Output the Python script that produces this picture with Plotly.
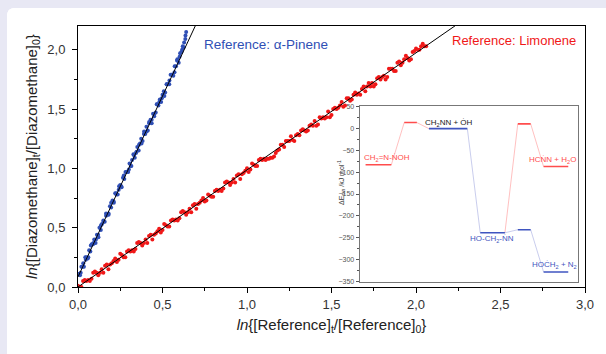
import plotly.graph_objects as go

# ---------------- main data ----------------
pinene_x = [0.005, 0.012, 0.02, 0.028, 0.035, 0.043, 0.05, 0.058, 0.066, 0.073, 0.081, 0.089, 0.096, 0.104,
            0.112, 0.119, 0.127, 0.135, 0.142, 0.15, 0.158, 0.166, 0.173, 0.181, 0.189, 0.196, 0.204, 0.212,
            0.22, 0.227, 0.235, 0.243, 0.25, 0.258, 0.266, 0.274, 0.281, 0.289, 0.297, 0.305, 0.312, 0.32,
            0.328, 0.336, 0.343, 0.351, 0.359, 0.367, 0.374, 0.382, 0.39, 0.398, 0.405, 0.413, 0.421, 0.429,
            0.436, 0.444, 0.452, 0.46, 0.468, 0.476, 0.484, 0.492, 0.5, 0.508, 0.516, 0.524, 0.532, 0.54,
            0.548, 0.556, 0.564, 0.572, 0.58, 0.588, 0.596, 0.604, 0.612, 0.62, 0.628, 0.636, 0.64, 0.635, 0.625,
            0.016, 0.031, 0.046, 0.061, 0.076, 0.091, 0.106, 0.121, 0.136, 0.151, 0.166, 0.181, 0.196, 0.211,
            0.226, 0.241, 0.256, 0.271, 0.286, 0.301, 0.316, 0.331, 0.346, 0.361, 0.376, 0.391, 0.406, 0.421,
            0.436, 0.451, 0.466, 0.481, 0.496, 0.511, 0.526, 0.541, 0.556, 0.571, 0.586, 0.601, 0.616]
pinene_y = [0.11, 0.10, 0.17, 0.17, 0.17, 0.25, 0.25, 0.24, 0.31, 0.30, 0.36, 0.36, 0.40, 0.37,
            0.44, 0.44, 0.50, 0.48, 0.53, 0.56, 0.55, 0.62, 0.61, 0.61, 0.68, 0.67, 0.73, 0.71,
            0.79, 0.78, 0.78, 0.85, 0.86, 0.84, 0.92, 0.91, 0.97, 0.97, 0.97, 1.04, 1.02, 1.07,
            1.12, 1.09, 1.13, 1.18, 1.15, 1.21, 1.25, 1.23, 1.29, 1.29, 1.35, 1.32, 1.38, 1.41,
            1.38, 1.46, 1.46, 1.47, 1.54, 1.53, 1.58, 1.56, 1.62, 1.65, 1.64, 1.71, 1.71, 1.71,
            1.79, 1.79, 1.78, 1.86, 1.86, 1.92, 1.89, 1.97, 1.98, 2.03, 2.06, 2.12, 2.15, 2.09, 2.02,
            0.12, 0.20, 0.23, 0.25, 0.35, 0.37, 0.40, 0.42, 0.52, 0.55, 0.60, 0.62, 0.71, 0.72,
            0.79, 0.82, 0.85, 0.94, 0.97, 0.99, 1.02, 1.11, 1.14, 1.20, 1.21, 1.31, 1.31, 1.39,
            1.41, 1.44, 1.54, 1.56, 1.59, 1.61, 1.71, 1.74, 1.79, 1.81, 1.91, 1.94, 2.00]

limonene_x = [0.00, 0.02, 0.04, 0.06, 0.08, 0.10, 0.12, 0.14, 0.16, 0.18, 0.20, 0.22, 0.24, 0.26, 0.28,
              0.30, 0.32, 0.34, 0.36, 0.38, 0.40, 0.42, 0.44, 0.46, 0.48, 0.50, 0.52, 0.54, 0.56, 0.58,
              0.60, 0.62, 0.64, 0.66, 0.68, 0.70, 0.72, 0.74, 0.76, 0.78, 0.80, 0.82, 0.84, 0.86, 0.88,
              0.90, 0.92, 0.94, 0.96, 0.98, 1.00, 1.02, 1.04, 1.06, 1.08, 1.10, 1.12, 1.14, 1.16, 1.18,
              1.20, 1.22, 1.24, 1.26, 1.28, 1.30, 1.32, 1.34, 1.36, 1.38, 1.40, 1.42, 1.44, 1.46, 1.48,
              1.50, 1.52, 1.54, 1.56, 1.58, 1.60, 1.62, 1.64, 1.66, 1.68, 1.70, 1.72, 1.74, 1.76, 1.78,
              1.80, 1.82, 1.84, 1.86, 1.88, 1.90, 1.92, 1.94, 1.96, 1.98, 2.00, 2.02, 2.04, 2.06,
              0.01, 0.03, 0.05, 0.07, 0.09, 0.11, 0.13, 0.15, 0.17, 0.19, 0.21, 0.23, 0.25, 0.27, 0.29,
              0.31, 0.33, 0.35, 0.37, 0.39, 0.41, 0.43, 0.45, 0.47, 0.49, 0.51, 0.53, 0.55, 0.57, 0.59,
              0.61, 0.63, 0.65, 0.67, 0.69, 0.71, 0.73, 0.75, 0.77, 0.79, 0.81, 0.83, 0.85, 0.87, 0.89,
              0.91, 0.93, 0.95, 0.97, 0.99, 1.01, 1.03, 1.05, 1.07, 1.09, 1.11, 1.13, 1.15, 1.17, 1.19,
              1.21, 1.23, 1.25, 1.27, 1.29, 1.31, 1.33, 1.35, 1.37, 1.39, 1.41, 1.43, 1.45, 1.47, 1.49,
              1.51, 1.53, 1.55, 1.57, 1.59, 1.61, 1.63, 1.65, 1.67, 1.69, 1.71, 1.73, 1.75, 1.77, 1.79,
              1.81, 1.83, 1.85, 1.87, 1.89, 1.91, 1.93, 1.95, 1.97, 1.99, 2.01, 2.03, 2.05]
limonene_y = [0.01, 0.00, 0.06, 0.06, 0.07, 0.13, 0.10, 0.15, 0.18, 0.15, 0.20, 0.24, 0.23, 0.27, 0.25,
              0.31, 0.31, 0.32, 0.38, 0.35, 0.40, 0.43, 0.40, 0.45, 0.49, 0.48, 0.52, 0.51, 0.57, 0.57,
              0.58, 0.64, 0.61, 0.66, 0.69, 0.66, 0.71, 0.75, 0.73, 0.77, 0.76, 0.82, 0.82, 0.83, 0.89,
              0.86, 0.91, 0.94, 0.91, 0.96, 1.00, 0.99, 1.03, 1.02, 1.08, 1.08, 1.08, 1.09, 1.10, 1.15,
              1.20, 1.18, 1.23, 1.27, 1.23, 1.29, 1.32, 1.32, 1.32, 1.37, 1.40, 1.37, 1.42, 1.42, 1.48,
              1.45, 1.51, 1.51, 1.56, 1.53, 1.59, 1.58, 1.64, 1.63, 1.67, 1.65, 1.72, 1.72, 1.71, 1.77,
              1.77, 1.75, 1.84, 1.84, 1.82, 1.90, 1.89, 1.95, 1.91, 1.98, 2.01, 2.00, 2.05, 2.03,
              0.00, 0.05, 0.05, 0.05, 0.12, 0.12, 0.12, 0.12, 0.19, 0.19, 0.22, 0.21, 0.28, 0.25, 0.30,
              0.30, 0.30, 0.37, 0.37, 0.37, 0.37, 0.44, 0.44, 0.47, 0.46, 0.53, 0.51, 0.56, 0.56, 0.56,
              0.63, 0.63, 0.63, 0.63, 0.70, 0.70, 0.73, 0.72, 0.78, 0.76, 0.81, 0.81, 0.81, 0.88, 0.88,
              0.88, 0.88, 0.95, 0.95, 0.98, 0.97, 1.04, 1.02, 1.07, 1.07, 1.07, 1.08, 1.09, 1.13, 1.16,
              1.20, 1.23, 1.23, 1.24, 1.28, 1.28, 1.33, 1.31, 1.36, 1.36, 1.36, 1.43, 1.43, 1.43, 1.43,
              1.50, 1.50, 1.53, 1.52, 1.59, 1.57, 1.62, 1.62, 1.62, 1.69, 1.69, 1.69, 1.69, 1.76, 1.75,
              1.78, 1.77, 1.84, 1.82, 1.89, 1.87, 1.92, 1.93, 1.92, 1.99, 2.00, 2.03, 2.03]

# fitted lines (end points)
pinene_fit_x = [0.0, 0.72]
pinene_fit_y = [0.085, 2.28]
limonene_fit_x = [0.0, 2.26]
limonene_fit_y = [0.0, 2.23]

# ---------------- inset data ----------------
level_x0 = [0.27, 2.04, 3.17, 5.52, 7.24, 7.24, 8.42, 8.42]
level_x1 = [1.45, 2.62, 4.93, 6.65, 7.83, 7.83, 9.55, 9.55]
level_E = [-83, 14, 0, -239, 11, -232, -87, -329]
level_col = ["r", "r", "b", "b", "r", "b", "r", "b"]
links = [(0, 1, "r"), (1, 2, "r"), (2, 3, "b"), (3, 4, "r"), (3, 5, "b"), (4, 6, "r"), (5, 7, "b")]
inset_labels = ["CH<sub>2</sub>=N-ṄOH", "CH<sub>2</sub>NN + ȮH", "HO-CH<sub>2</sub>-ṄN",
                "HCṄN + H<sub>2</sub>O", "HOĊH<sub>2</sub> + N<sub>2</sub>"]
inset_label_x = [0.1, 4.1, 6.06, 8.85, 8.9]
inset_label_E = [-68, 14, -253, -71, -313]
inset_label_col = ["r", "k", "b", "r", "b"]
inset_ticks = [50, 0, -50, -100, -150, -200, -250, -300, -350]

RED = "#f01818"
BLUE = "#2f4fb5"
LRED = "#ff4d4d"
LBLUE = "#3f55c0"
cmap = {"r": LRED, "b": LBLUE, "k": "#222222"}
linkmap = {"r": "rgba(255,110,110,0.55)", "b": "rgba(120,130,210,0.5)"}
LAV = "#e8e8f4"

fig = go.Figure()

fig.add_trace(go.Scatter(x=pinene_x, y=pinene_y, mode="markers",
                         marker=dict(color=BLUE, size=4), showlegend=False))
fig.add_trace(go.Scatter(x=limonene_x, y=limonene_y, mode="markers",
                         marker=dict(color=RED, size=4), showlegend=False))
fig.add_trace(go.Scatter(x=pinene_fit_x, y=pinene_fit_y, mode="lines",
                         line=dict(color="black", width=1), showlegend=False))
fig.add_trace(go.Scatter(x=limonene_fit_x, y=limonene_fit_y, mode="lines",
                         line=dict(color="black", width=1), showlegend=False))

# inset connectors
for a, b, c in links:
    fig.add_trace(go.Scatter(x=[level_x1[a], level_x0[b]], y=[level_E[a], level_E[b]],
                             mode="lines", line=dict(color=linkmap[c], width=0.8),
                             xaxis="x2", yaxis="y2", showlegend=False))
# inset levels
for x0, x1, e, c in zip(level_x0, level_x1, level_E, level_col):
    fig.add_trace(go.Scatter(x=[x0, x1], y=[e, e], mode="lines",
                             line=dict(color=cmap[c], width=1.6),
                             xaxis="x2", yaxis="y2", showlegend=False))

for t, x, e, c in zip(inset_labels, inset_label_x, inset_label_E, inset_label_col):
    fig.add_annotation(x=x, y=e, xref="x2", yref="y2", text=t, showarrow=False,
                       xanchor="left" if x < 1 else "center",
                       font=dict(family="Liberation Sans, Arial", size=8, color=cmap[c]))

fig.add_annotation(x=(345 - 78) / 513, y=(287 - 182) / 261, xref="paper", yref="paper",
                   text="ΔE<sub>rxn</sub> /kJ mol<sup>-1</sup>", textangle=-90, showarrow=False,
                   font=dict(family="Liberation Sans, Arial", size=7, color="#333"))

fig.add_annotation(x=(203 - 78) / 171, y=2.04, xref="x", yref="y", text="Reference: α-Pinene",
                   showarrow=False, xanchor="left",
                   font=dict(family="Liberation Sans, Arial", size=13.5, color=BLUE))
fig.add_annotation(x=(454 - 78) / 171, y=2.075, xref="x", yref="y", text="Reference: Limonene",
                   showarrow=False, xanchor="left",
                   font=dict(family="Liberation Sans, Arial", size=13, color=RED))

axis_font = dict(family="Liberation Sans, Arial", size=13, color="#333")
fig.update_layout(
    width=606, height=354,
    margin=dict(l=78, r=15, t=26, b=67),
    paper_bgcolor="white", plot_bgcolor="white",
    separators=",.",
    xaxis=dict(range=[0, 3.0], dtick=0.5, tickformat=".1f", ticks="outside", ticklen=5,
               tickcolor="black", showline=True, linecolor="black", linewidth=1, mirror=True,
               showgrid=False, zeroline=False, tickfont=axis_font,
               minor=dict(dtick=0.25, ticks="outside", ticklen=3, tickcolor="black"),
               title=dict(text="<i>ln</i>{[Reference]<sub>t</sub>/[Reference]<sub>0</sub>}",
                          font=dict(family="Liberation Sans, Arial", size=15, color="#222"),
                          standoff=8)),
    yaxis=dict(range=[0, 2.2], dtick=0.5, tickformat=".1f", ticks="outside", ticklen=5,
               tickcolor="black", showline=True, linecolor="black", linewidth=1, mirror=True,
               showgrid=False, zeroline=False, tickfont=axis_font, ticklabelstandoff=4,
               minor=dict(dtick=0.25, ticks="outside", ticklen=3, tickcolor="black"),
               title=dict(text="<i>ln</i>{[Diazomethane]<sub>t</sub>/[Diazomethane]<sub>0</sub>}",
                          font=dict(family="Liberation Sans, Arial", size=15, color="#222"),
                          standoff=6)),
    xaxis2=dict(domain=[(363 - 78) / 513, (584 - 78) / 513], anchor="y2", range=[0, 10],
                showticklabels=False, ticks="", showgrid=False, zeroline=False,
                showline=True, linecolor="#777", linewidth=1, mirror=True),
    yaxis2=dict(domain=[(287 - 282) / 261, (287 - 106) / 261], anchor="x2", range=[-352, 52],
                tickvals=inset_ticks, ticks="outside", ticklen=3, tickcolor="#555",
                showgrid=False, zeroline=False, showline=True, linecolor="#777", linewidth=1,
                mirror=True, tickfont=dict(family="Liberation Sans, Arial", size=7, color="#555"),
                minor=dict(dtick=25, ticks="outside", ticklen=2, tickcolor="#555")),
)

# page frame: lavender strips along the top and left edges, rounded corner of the white panel
post = (
    "document.body.style.margin='0px';"
    "document.body.style.overflow='hidden';"
    "function strip(css){var e=document.createElement('div');"
    "e.style.cssText='position:fixed;z-index:1000;pointer-events:none;'+css;document.body.appendChild(e);}"
    "strip('left:0;top:0;width:100%;height:8px;background:" + LAV + ";');"
    "strip('left:0;top:0;width:7px;height:100%;background:" + LAV + ";');"
    "strip('left:7px;top:8px;width:6px;height:6px;"
    "background:radial-gradient(circle at 100% 100%, rgba(0,0,0,0) 5.5px, " + LAV + " 6px);');"
)
fig.write_html("out.html", config={"displayModeBar": False}, post_script=post)
